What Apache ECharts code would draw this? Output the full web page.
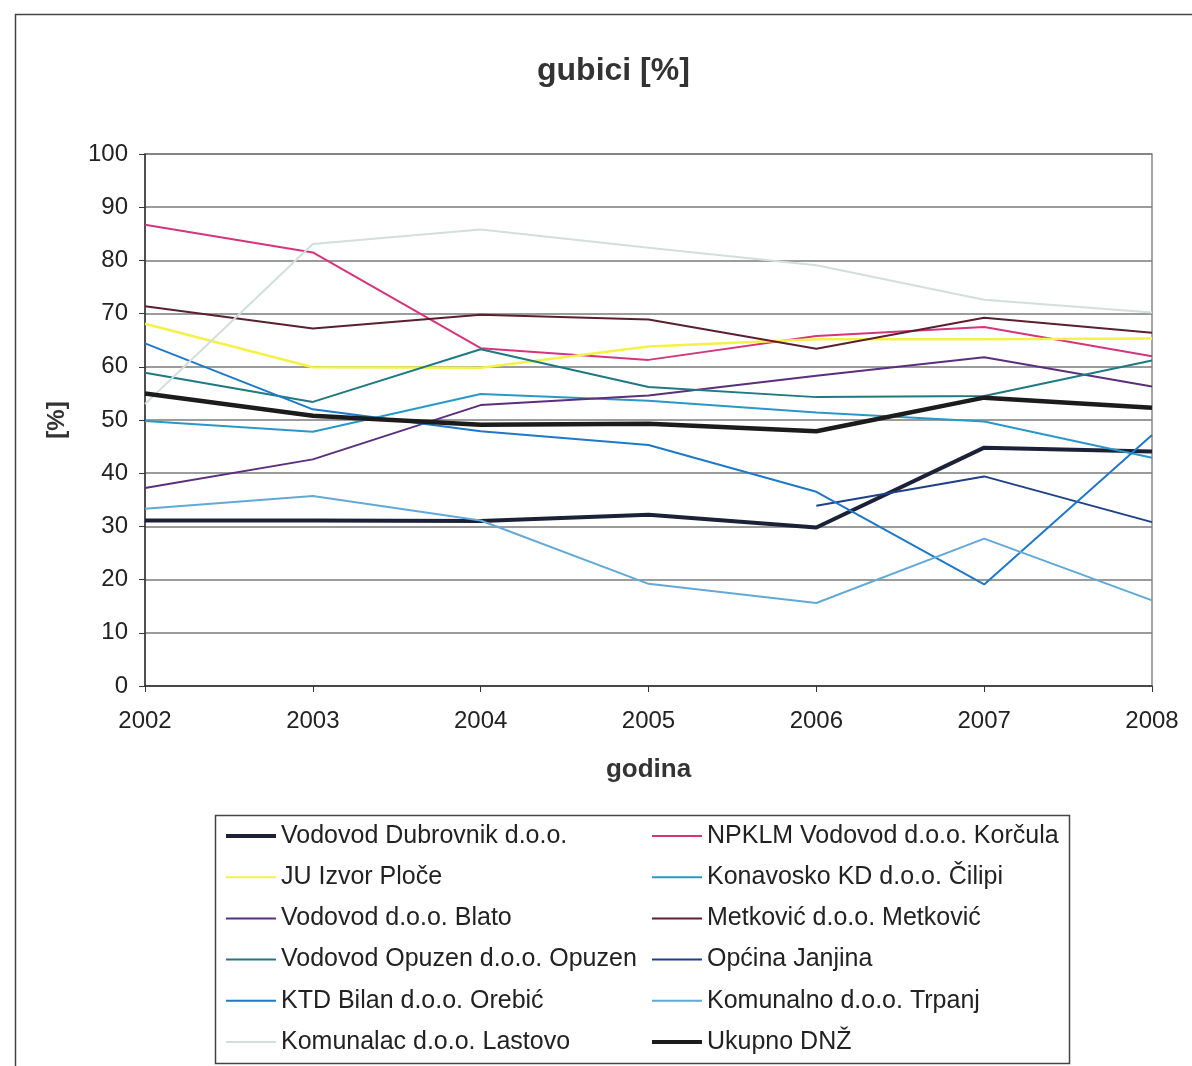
<!DOCTYPE html>
<html>
<head>
<meta charset="utf-8">
<script src="https://cdn.jsdelivr.net/npm/echarts@6/dist/echarts.min.js"></script>
<style>
  html, body { margin: 0; padding: 0; background: #fff; }
  #chart { width: 1192px; height: 1066px; }
</style>
</head>
<body>
<div id="chart"></div>
<script>
// godine
const years = ['2002', '2003', '2004', '2005', '2006', '2007', '2008'];
const yTicks = [0, 10, 20, 30, 40, 50, 60, 70, 80, 90, 100];

// gubici po vodovodu [%]
const dubrovnik = [31.1, 31.1, 31.0, 32.2, 29.8, 44.8, 44.1];
const korcula = [86.7, 81.5, 63.5, 61.3, 65.8, 67.5, 62.0];
const ploce = [68.1, 59.9, 59.8, 63.8, 65.2, 65.2, 65.3];
const cilipi = [49.8, 47.8, 54.9, 53.6, 51.4, 49.7, 42.9];
const blato = [37.2, 42.6, 52.8, 54.6, 58.3, 61.8, 56.3];
const metkovic = [71.4, 67.2, 69.8, 68.9, 63.4, 69.2, 66.4];
const opuzen = [58.9, 53.4, 63.3, 56.2, 54.3, 54.5, 61.2];
const janjina = [null, null, null, null, 33.9, 39.4, 30.8];
const orebic = [64.4, 52.0, 47.9, 45.3, 36.5, 19.1, 47.2];
const trpanj = [33.3, 35.7, 31.1, 19.2, 15.6, 27.7, 16.1];
const lastovo = [53.0, 83.1, 85.8, 82.4, 79.1, 72.6, 70.2];
const ukupno = [55.0, 50.8, 49.1, 49.3, 47.9, 54.2, 52.3];

const leftNames = ['Vodovod Dubrovnik d.o.o.', 'JU Izvor Ploče', 'Vodovod d.o.o. Blato',
  'Vodovod Opuzen d.o.o. Opuzen', 'KTD Bilan d.o.o. Orebić', 'Komunalac d.o.o. Lastovo'];
const rightNames = ['NPKLM Vodovod d.o.o. Korčula', 'Konavosko KD d.o.o. Čilipi', 'Metković d.o.o. Metković',
  'Općina Janjina', 'Komunalno d.o.o. Trpanj', 'Ukupno DNŽ'];
const thickNames = ['Vodovod Dubrovnik d.o.o.', 'Ukupno DNŽ'];

const font = '"Liberation Sans", Arial, sans-serif';

function line(name, data, color, width) {
  return {
    name: name,
    type: 'line',
    data: data,
    symbol: 'none',
    lineStyle: { color: color, width: width },
    itemStyle: { color: color },
    emphasis: { disabled: true }
  };
}

function legendData(names) {
  return names.map(function (n) {
    return { name: n, lineStyle: { width: thickNames.indexOf(n) >= 0 ? 4 : 2 } };
  });
}

const legendBase = {
  orient: 'vertical',
  top: 822,
  padding: 0,
  itemWidth: 50,
  itemHeight: 14,
  itemGap: 13.2,
  itemStyle: { opacity: 0 },
  lineStyle: { width: 2 },
  textStyle: { fontFamily: font, fontSize: 25, lineHeight: 28, color: '#222' },
  selectedMode: false
};

const chart = echarts.init(document.getElementById('chart'));
chart.setOption({
  animation: false,
  backgroundColor: '#fff',
  textStyle: { fontFamily: font },
  title: {
    text: 'gubici [%]',
    left: 532,
    top: 50,
    textStyle: { fontFamily: font, fontSize: 32, fontWeight: 'bold', color: '#333' }
  },
  graphic: [
    { type: 'rect', shape: { x: 15.5, y: 14.5, width: 1300, height: 1200 },
      style: { fill: 'none', stroke: '#444', lineWidth: 1.5 } },
    { type: 'rect', shape: { x: 215.5, y: 815.5, width: 854, height: 248 },
      style: { fill: 'none', stroke: '#444', lineWidth: 1.5 } }
  ],
  legend: [
    Object.assign({ left: 224, data: legendData(leftNames) }, legendBase),
    Object.assign({ left: 650, data: legendData(rightNames) }, legendBase)
  ],
  grid: {
    left: 145, right: 40, top: 154, bottom: 380,
    show: true, borderColor: '#888', borderWidth: 1.5
  },
  xAxis: {
    type: 'category',
    data: years,
    boundaryGap: false,
    name: 'godina',
    nameLocation: 'middle',
    nameGap: 71,
    nameTextStyle: { fontFamily: font, fontSize: 26, fontWeight: 'bold', color: '#333' },
    axisLine: { lineStyle: { color: '#333', width: 1.5 } },
    axisTick: { show: true, length: 6, lineStyle: { color: '#333' } },
    axisLabel: { fontFamily: font, fontSize: 24, color: '#222', margin: 23 },
    splitLine: { show: false }
  },
  yAxis: {
    type: 'value',
    min: yTicks[0],
    max: yTicks[yTicks.length - 1],
    interval: 10,
    name: '[%]',
    nameLocation: 'middle',
    nameGap: 76,
    nameTextStyle: { fontFamily: font, fontSize: 24, fontWeight: 'bold', color: '#333' },
    axisLine: { show: true, lineStyle: { color: '#333', width: 1.5 } },
    axisTick: { show: true, length: 6, lineStyle: { color: '#333' } },
    axisLabel: { fontFamily: font, fontSize: 24, color: '#222', margin: 17 },
    splitLine: { show: true, lineStyle: { color: '#7a7a7a', width: 1.5 } }
  },
  series: [
    line('Vodovod Dubrovnik d.o.o.', dubrovnik, '#1b2238', 4),
    line('NPKLM Vodovod d.o.o. Korčula', korcula, '#d4357c', 2),
    line('JU Izvor Ploče', ploce, '#f4f24a', 2.5),
    line('Konavosko KD d.o.o. Čilipi', cilipi, '#2a98c6', 2),
    line('Vodovod d.o.o. Blato', blato, '#5b2f7c', 2),
    line('Metković d.o.o. Metković', metkovic, '#5a2030', 2),
    line('Vodovod Opuzen d.o.o. Opuzen', opuzen, '#1e7a80', 2),
    line('Općina Janjina', janjina, '#1f4088', 2),
    line('KTD Bilan d.o.o. Orebić', orebic, '#1f78c8', 2),
    line('Komunalno d.o.o. Trpanj', trpanj, '#63a9d6', 2),
    line('Komunalac d.o.o. Lastovo', lastovo, '#d3dfdc', 2),
    line('Ukupno DNŽ', ukupno, '#1c1c1c', 4.5)
  ]
});
</script>
</body>
</html>
